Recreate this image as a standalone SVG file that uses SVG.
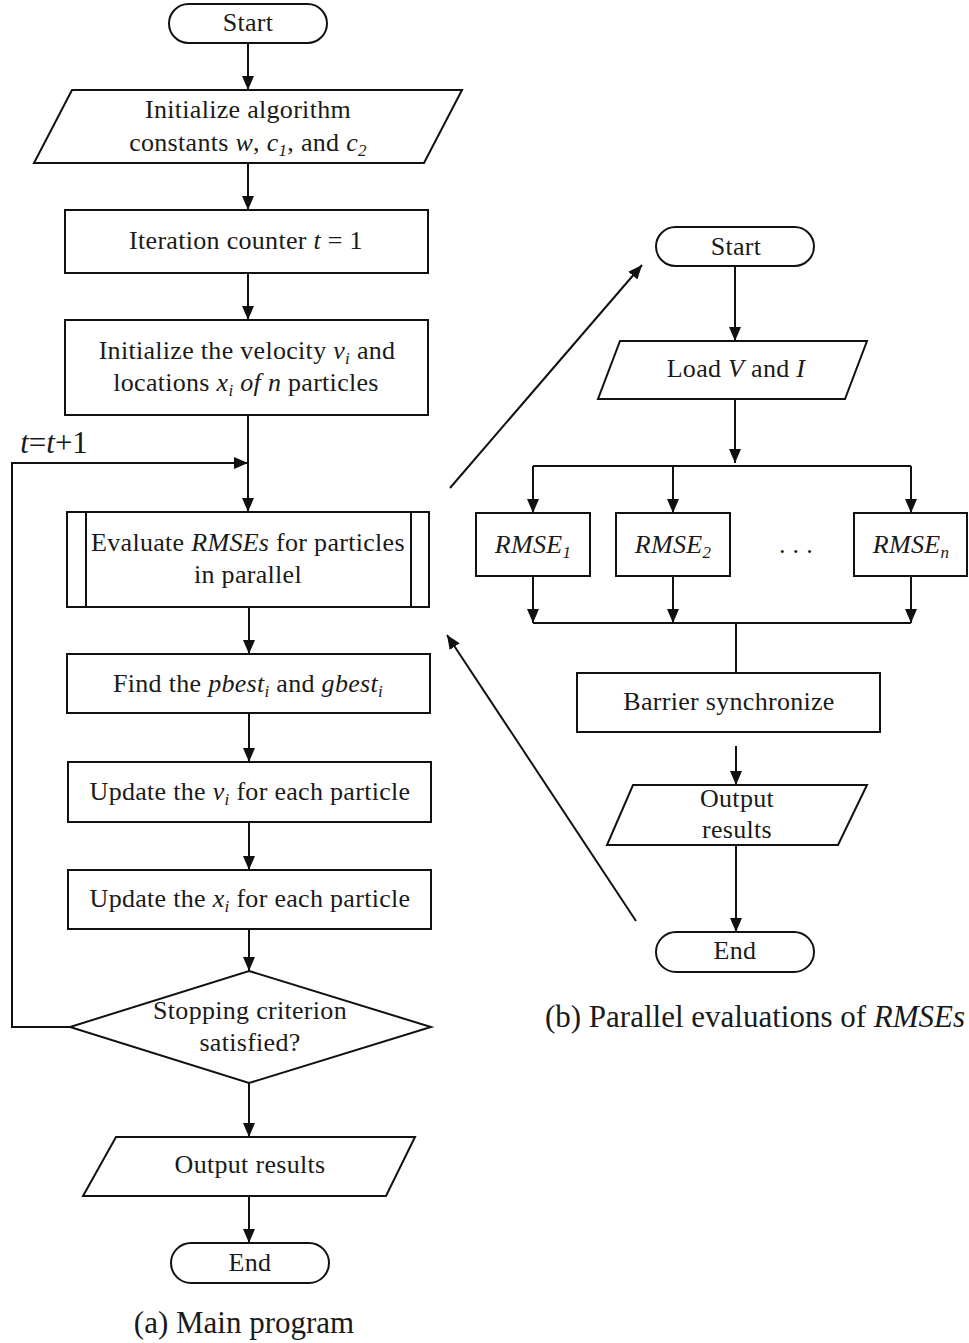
<svg xmlns="http://www.w3.org/2000/svg" width="969" height="1343" viewBox="0 0 969 1343">
  <defs>
    <style>
      .shape { fill: #ffffff; stroke: #111111; stroke-width: 2; }
      .wire { fill: none; stroke: #111111; stroke-width: 2; }
      .label { font-family: "Liberation Serif", "Times New Roman", serif; font-size: 26px; letter-spacing: 0.3px; fill: #1a1a1a; text-anchor: middle; }
      .caption { font-family: "Liberation Serif", "Times New Roman", serif; font-size: 31px; fill: #1a1a1a; text-anchor: middle; }
      .step { font-family: "Liberation Serif", "Times New Roman", serif; font-size: 31px; fill: #1a1a1a; text-anchor: middle; }
      .it { font-style: italic; }
      .sub { font-size: 17px; }
    </style>
    <marker id="arrow" viewBox="0 0 14 12" refX="14" refY="6" markerWidth="14" markerHeight="12" markerUnits="userSpaceOnUse" orient="auto">
      <path d="M0,0 L14,6 L0,12 z" fill="#111111"/>
    </marker>
  </defs>
  <rect x="0" y="0" width="969" height="1343" fill="#ffffff"/>

  <!-- connectors -->
  <g id="connectors">
    <line class="wire" x1="248" y1="43" x2="248" y2="90" marker-end="url(#arrow)"/>
    <line class="wire" x1="248" y1="163" x2="248" y2="210" marker-end="url(#arrow)"/>
    <line class="wire" x1="248" y1="273" x2="248" y2="320" marker-end="url(#arrow)"/>
    <line class="wire" x1="248" y1="415" x2="248" y2="512" marker-end="url(#arrow)"/>
    <polyline class="wire" points="70,1027 12,1027 12,463 248,463" marker-end="url(#arrow)"/>
    <line class="wire" x1="249" y1="607" x2="249" y2="654" marker-end="url(#arrow)"/>
    <line class="wire" x1="249" y1="713" x2="249" y2="762" marker-end="url(#arrow)"/>
    <line class="wire" x1="249" y1="822" x2="249" y2="870" marker-end="url(#arrow)"/>
    <line class="wire" x1="249" y1="929" x2="249" y2="971" marker-end="url(#arrow)"/>
    <line class="wire" x1="249" y1="1083" x2="249" y2="1137" marker-end="url(#arrow)"/>
    <line class="wire" x1="249" y1="1196" x2="249" y2="1243" marker-end="url(#arrow)"/>

    <line class="wire" x1="735" y1="266" x2="735" y2="341" marker-end="url(#arrow)"/>
    <line class="wire" x1="735" y1="399" x2="735" y2="463" marker-end="url(#arrow)"/>
    <line class="wire" x1="533" y1="466" x2="911" y2="466"/>
    <line class="wire" x1="533" y1="466" x2="533" y2="513" marker-end="url(#arrow)"/>
    <line class="wire" x1="673" y1="466" x2="673" y2="513" marker-end="url(#arrow)"/>
    <line class="wire" x1="911" y1="466" x2="911" y2="513" marker-end="url(#arrow)"/>
    <line class="wire" x1="533" y1="576" x2="533" y2="623" marker-end="url(#arrow)"/>
    <line class="wire" x1="673" y1="576" x2="673" y2="623" marker-end="url(#arrow)"/>
    <line class="wire" x1="911" y1="576" x2="911" y2="623" marker-end="url(#arrow)"/>
    <line class="wire" x1="533" y1="623" x2="911" y2="623"/>
    <line class="wire" x1="736" y1="623" x2="736" y2="673"/>
    <line class="wire" x1="736" y1="746" x2="736" y2="785" marker-end="url(#arrow)"/>
    <line class="wire" x1="736" y1="845" x2="736" y2="932" marker-end="url(#arrow)"/>

    <line class="wire" x1="450" y1="488" x2="642" y2="265" marker-end="url(#arrow)"/>
    <line class="wire" x1="636" y1="921" x2="447" y2="635" marker-end="url(#arrow)"/>

    <text class="step" x="54" y="453"><tspan class="it">t</tspan>=<tspan class="it">t</tspan>+1</text>
  </g>

  <!-- main program -->
  <g id="main-start">
    <rect class="shape" x="169" y="4" width="158" height="39" rx="19.5"/>
    <text class="label" x="248" y="31">Start</text>
  </g>
  <g id="main-init-constants">
    <polygon class="shape" points="72,90 462,90 424,163 34,163"/>
    <text class="label" x="248" y="118">Initialize algorithm</text>
    <text class="label" x="248" y="151">constants <tspan class="it">w</tspan>, <tspan class="it">c</tspan><tspan class="it sub" dy="5">1</tspan><tspan dy="-5">, and </tspan><tspan class="it">c</tspan><tspan class="it sub" dy="5">2</tspan></text>
  </g>
  <g id="main-counter">
    <rect class="shape" x="65" y="210" width="363" height="63"/>
    <text class="label" x="246" y="249">Iteration counter <tspan class="it">t</tspan> = 1</text>
  </g>
  <g id="main-init-particles">
    <rect class="shape" x="65" y="320" width="363" height="95"/>
    <text class="label" x="247" y="359">Initialize the velocity <tspan class="it">v</tspan><tspan class="it sub" dy="5">i</tspan><tspan dy="-5"> and</tspan></text>
    <text class="label" x="246" y="391">locations <tspan class="it">x</tspan><tspan class="it sub" dy="5">i</tspan><tspan class="it" dy="-5"> of n</tspan> particles</text>
  </g>
  <g id="main-evaluate">
    <rect class="shape" x="67" y="512" width="362" height="95"/>
    <line class="wire" x1="86" y1="512" x2="86" y2="607"/>
    <line class="wire" x1="411" y1="512" x2="411" y2="607"/>
    <text class="label" x="248" y="551">Evaluate <tspan class="it">RMSEs</tspan> for particles</text>
    <text class="label" x="248" y="583">in parallel</text>
  </g>
  <g id="main-find-best">
    <rect class="shape" x="67" y="654" width="363" height="59"/>
    <text class="label" x="248" y="692">Find the <tspan class="it">pbest</tspan><tspan class="it sub" dy="5">i</tspan><tspan dy="-5"> and </tspan><tspan class="it">gbest</tspan><tspan class="it sub" dy="5">i</tspan></text>
  </g>
  <g id="main-update-v">
    <rect class="shape" x="68" y="762" width="363" height="60"/>
    <text class="label" x="250" y="800">Update the <tspan class="it">v</tspan><tspan class="it sub" dy="5">i</tspan><tspan dy="-5"> for each particle</tspan></text>
  </g>
  <g id="main-update-x">
    <rect class="shape" x="68" y="870" width="363" height="59"/>
    <text class="label" x="250" y="907">Update the <tspan class="it">x</tspan><tspan class="it sub" dy="5">i</tspan><tspan dy="-5"> for each particle</tspan></text>
  </g>
  <g id="main-stop-check">
    <polygon class="shape" points="249,971 431,1027 249,1083 70,1027"/>
    <text class="label" x="250" y="1019">Stopping criterion</text>
    <text class="label" x="250" y="1051">satisfied?</text>
  </g>
  <g id="main-output">
    <polygon class="shape" points="116,1137 415,1137 386,1196 83,1196"/>
    <text class="label" x="250" y="1173">Output results</text>
  </g>
  <g id="main-end">
    <rect class="shape" x="171" y="1243" width="158" height="40" rx="20"/>
    <text class="label" x="250" y="1271">End</text>
  </g>
  <text class="caption" x="244" y="1333">(a) Main program</text>

  <!-- parallel evaluation -->
  <g id="par-start">
    <rect class="shape" x="656" y="227" width="158" height="39" rx="19.5"/>
    <text class="label" x="736" y="255">Start</text>
  </g>
  <g id="par-load">
    <polygon class="shape" points="620,341 867,341 845,399 598,399"/>
    <text class="label" x="736" y="377">Load <tspan class="it">V</tspan> and <tspan class="it">I</tspan></text>
  </g>
  <g id="par-rmse-1">
    <rect class="shape" x="476" y="513" width="114" height="63"/>
    <text class="label" x="533" y="553"><tspan class="it">RMSE</tspan><tspan class="it sub" dy="5">1</tspan></text>
  </g>
  <g id="par-rmse-2">
    <rect class="shape" x="616" y="513" width="114" height="63"/>
    <text class="label" x="673" y="553"><tspan class="it">RMSE</tspan><tspan class="it sub" dy="5">2</tspan></text>
  </g>
  <text class="label" x="796" y="553">. . .</text>
  <g id="par-rmse-n">
    <rect class="shape" x="854" y="513" width="113" height="63"/>
    <text class="label" x="911" y="553"><tspan class="it">RMSE</tspan><tspan class="it sub" dy="5">n</tspan></text>
  </g>
  <g id="par-barrier">
    <rect class="shape" x="577" y="673" width="303" height="59"/>
    <text class="label" x="729" y="710">Barrier synchronize</text>
  </g>
  <g id="par-output">
    <polygon class="shape" points="633,785 867,785 838,845 607,845"/>
    <text class="label" x="737" y="807">Output</text>
    <text class="label" x="737" y="838">results</text>
  </g>
  <g id="par-end">
    <rect class="shape" x="656" y="932" width="158" height="40" rx="20"/>
    <text class="label" x="735" y="959">End</text>
  </g>
  <text class="caption" x="755" y="1027">(b) Parallel evaluations of <tspan class="it">RMSEs</tspan></text>
</svg>
